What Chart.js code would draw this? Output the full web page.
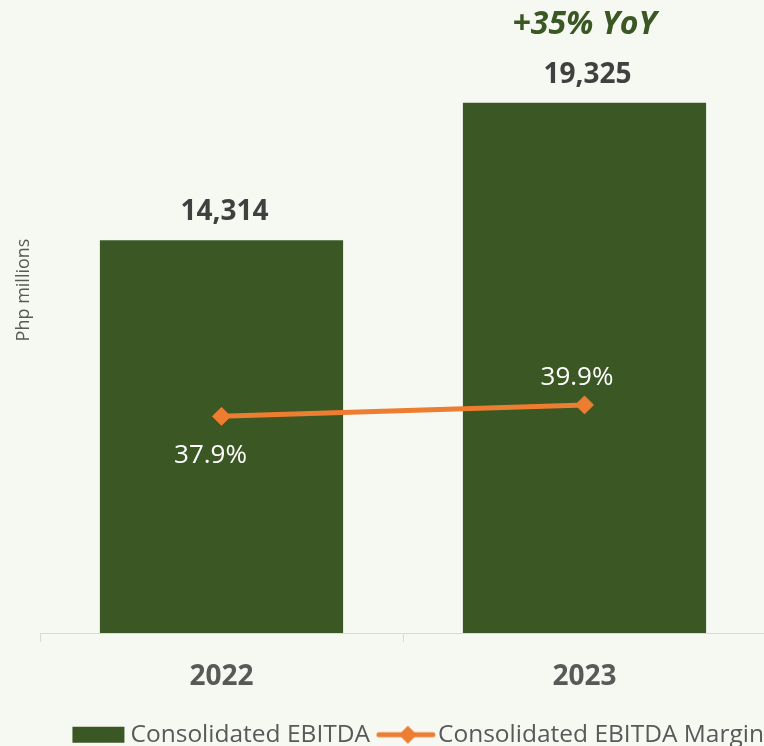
<!DOCTYPE html>
<html>
<head>
<meta charset="utf-8">
<script src="https://cdn.jsdelivr.net/npm/chart.js@4.4.1/dist/chart.umd.min.js"></script>
<style>
  html, body { margin: 0; padding: 0; background: #f6f9f2; width: 764px; height: 746px; overflow: hidden; position: relative; }
  #c { display: block; position: absolute; left: 0; top: -53px; }
</style>
</head>
<body>
<canvas id="c" width="766" height="810"></canvas>
<script>
// ---- data ----
const categories = ['2022', '2023'];
const ebitda = [14314, 19325];
const ebitdaMargin = [37.9, 39.9];
const seriesNames = ['Consolidated EBITDA', 'Consolidated EBITDA Margin'];
const yAxisTitle = 'Php millions';
const yoyLabel = '+35% YoY';

// ---- styles ----
const GREEN = '#3a5724';
const ORANGE = '#ed7d31';
const GREY = '#595959';
const DARK = '#404040';
const FONT = '"Open Sans", "Noto Sans", sans-serif';

function swatch(kind) {
  const c = document.createElement('canvas');
  c.width = 80; c.height = 24;
  const g = c.getContext('2d');
  const cx = 40 + 7;
  if (kind === 'bar') {
    g.fillStyle = GREEN;
    g.fillRect(cx - 26, 12 - 8, 52, 16);
  } else {
    g.strokeStyle = ORANGE; g.lineWidth = 5; g.lineCap = 'round';
    g.beginPath(); g.moveTo(cx - 27, 12); g.lineTo(cx + 27, 12); g.stroke();
    g.fillStyle = ORANGE;
    const dx = cx + 2, r = 9;
    g.beginPath(); g.moveTo(dx - r, 12); g.lineTo(dx, 12 - r); g.lineTo(dx + r, 12); g.lineTo(dx, 12 + r); g.closePath(); g.fill();
  }
  return c;
}

const labelPlugin = {
  id: 'valueLabels',
  afterDatasetsDraw(chart, args, opts) {
    const ctx = chart.ctx;
    const barMeta = chart.getDatasetMeta(0);
    const lineMeta = chart.getDatasetMeta(1);
    ctx.save();
    ctx.textAlign = 'center';
    ctx.textBaseline = 'middle';
    ctx.font = 'bold 28px ' + FONT;
    ctx.fillStyle = DARK;
    barMeta.data.forEach((bar, i) => {
      ctx.fillText(ebitda[i].toLocaleString('en-US'), bar.x + 3, bar.y - 28);
    });
    ctx.font = '26px ' + FONT;
    ctx.fillStyle = '#ffffff';
    lineMeta.data.forEach((pt, i) => {
      const below = opts.linePlacement[i] === 'below';
      ctx.fillText(ebitdaMargin[i].toFixed(1) + '%', pt.x + (below ? -11 : -7.5), pt.y + (below ? 39 : -27));
    });
    const last = barMeta.data[barMeta.data.length - 1];
    ctx.font = 'italic bold 32px ' + FONT;
    ctx.fillStyle = GREEN;
    ctx.fillText(yoyLabel, last.x, last.y - 78);
    ctx.restore();
  }
};

new Chart(document.getElementById('c'), {
  type: 'bar',
  data: {
    labels: categories,
    datasets: [
      {
        type: 'bar',
        label: seriesNames[0],
        data: ebitda,
        backgroundColor: GREEN,
        borderWidth: 0,
        yAxisID: 'y',
        order: 2,
        categoryPercentage: 1,
        barPercentage: 0.67
      },
      {
        type: 'line',
        label: seriesNames[1],
        data: ebitdaMargin,
        borderColor: ORANGE,
        backgroundColor: ORANGE,
        borderWidth: 5,
        pointStyle: 'rectRot',
        pointRadius: 9,
        pointBorderWidth: 1,
        pointBackgroundColor: ORANGE,
        pointBorderColor: ORANGE,
        yAxisID: 'y1',
        order: 1,
        tension: 0
      }
    ]
  },
  options: {
    responsive: false,
    devicePixelRatio: 1,
    animation: false,
    layout: { autoPadding: false, padding: { top: 0, right: 0, bottom: 0, left: 0 } },
    scales: {
      x: {
        offset: true,
        grid: { display: true, drawOnChartArea: false, drawTicks: true, tickLength: 9, color: '#d9d9d9', offset: true },
        border: { display: true, color: '#d9d9d9', width: 1 },
        ticks: { color: GREY, font: { family: FONT, size: 28, weight: 'bold' }, padding: 18.2 },
        afterFit: (scale) => { scale.height += 8.5; }
      },
      y: {
        position: 'left',
        min: 0, max: 25000,
        ticks: { display: false },
        grid: { display: false, drawTicks: false },
        border: { display: false },
        title: { display: true, text: yAxisTitle, color: GREY, font: { family: FONT, size: 18 }, padding: { top: 13.4, bottom: 5 } }
      },
      y1: {
        display: false,
        min: 0, max: 120
      }
    },
    plugins: {
      tooltip: { enabled: false },
      valueLabels: { linePlacement: ['below', 'above'] },
      legend: {
        position: 'bottom',
        align: 'end',
        labels: {
          usePointStyle: true,
          pointStyleWidth: 53.75,
          padding: 2,
          color: GREY,
          font: { family: FONT, size: 24.5 },
          generateLabels: () => [
            { text: seriesNames[0], pointStyle: swatch('bar'), fillStyle: GREEN, strokeStyle: GREEN, lineWidth: 0, hidden: false, datasetIndex: 0, fontColor: GREY },
            { text: seriesNames[1], pointStyle: swatch('line'), fillStyle: ORANGE, strokeStyle: ORANGE, lineWidth: 0, hidden: false, datasetIndex: 1, fontColor: GREY }
          ]
        }
      }
    }
  },
  plugins: [labelPlugin]
});
</script>
</body>
</html>
